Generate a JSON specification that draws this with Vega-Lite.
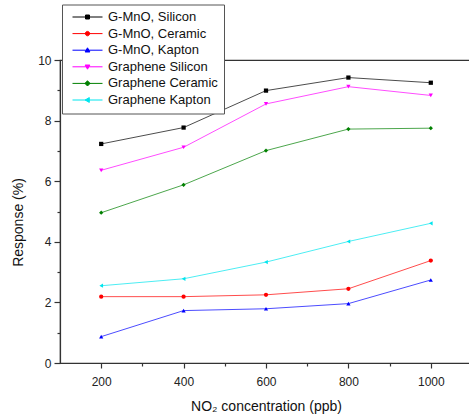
{
  "$schema": "https://vega.github.io/schema/vega-lite/v6.json",
  "width": 412,
  "height": 303,
  "autosize": {"type": "none"},
  "padding": {"left": 60, "top": 60, "right": 0, "bottom": 56},
  "background": "white",
  "config": {
    "font": "Liberation Sans",
    "view": {"stroke": "#333", "strokeWidth": 1.2},
    "axis": {
      "domainColor": "#333", "tickColor": "#333", "labelColor": "#222", "titleColor": "#111",
      "labelFont": "Liberation Sans", "titleFont": "Liberation Sans",
      "labelFontSize": 12, "titleFontSize": 14, "titleFontWeight": "normal",
      "grid": false, "domainWidth": 1.2, "tickWidth": 1.2
    },
    "legend": {
      "orient": "none", "legendX": 2, "legendY": -55.5, "title": null,
      "strokeColor": "#555", "fillColor": "white", "padding": 6,
      "labelFontSize": 13, "labelFont": "Liberation Sans", "labelColor": "#111",
      "symbolSize": 64, "labelOffset": 27, "rowPadding": 2.6,
      "symbolStrokeColor": "#000", "symbolFillColor": "#000", "symbolStrokeWidth": 1, "symbolOpacity": 1
    }
  },
  "data": {
    "values": [
      {"series": "G-MnO, Silicon", "conc": 200, "resp": 7.23},
      {"series": "G-MnO, Silicon", "conc": 400, "resp": 7.77},
      {"series": "G-MnO, Silicon", "conc": 600, "resp": 8.99},
      {"series": "G-MnO, Silicon", "conc": 800, "resp": 9.42},
      {"series": "G-MnO, Silicon", "conc": 1000, "resp": 9.25},
      {"series": "G-MnO, Ceramic", "conc": 200, "resp": 2.19},
      {"series": "G-MnO, Ceramic", "conc": 400, "resp": 2.19},
      {"series": "G-MnO, Ceramic", "conc": 600, "resp": 2.25},
      {"series": "G-MnO, Ceramic", "conc": 800, "resp": 2.45},
      {"series": "G-MnO, Ceramic", "conc": 1000, "resp": 3.38},
      {"series": "G-MnO, Kapton", "conc": 200, "resp": 0.87},
      {"series": "G-MnO, Kapton", "conc": 400, "resp": 1.73},
      {"series": "G-MnO, Kapton", "conc": 600, "resp": 1.79},
      {"series": "G-MnO, Kapton", "conc": 800, "resp": 1.96},
      {"series": "G-MnO, Kapton", "conc": 1000, "resp": 2.74},
      {"series": "Graphene Silicon", "conc": 200, "resp": 6.36},
      {"series": "Graphene Silicon", "conc": 400, "resp": 7.12},
      {"series": "Graphene Silicon", "conc": 600, "resp": 8.55},
      {"series": "Graphene Silicon", "conc": 800, "resp": 9.12},
      {"series": "Graphene Silicon", "conc": 1000, "resp": 8.83},
      {"series": "Graphene Ceramic", "conc": 200, "resp": 4.96},
      {"series": "Graphene Ceramic", "conc": 400, "resp": 5.88},
      {"series": "Graphene Ceramic", "conc": 600, "resp": 7.01},
      {"series": "Graphene Ceramic", "conc": 800, "resp": 7.72},
      {"series": "Graphene Ceramic", "conc": 1000, "resp": 7.75},
      {"series": "Graphene Kapton", "conc": 200, "resp": 2.55},
      {"series": "Graphene Kapton", "conc": 400, "resp": 2.78},
      {"series": "Graphene Kapton", "conc": 600, "resp": 3.33},
      {"series": "Graphene Kapton", "conc": 800, "resp": 4.01},
      {"series": "Graphene Kapton", "conc": 1000, "resp": 4.61}
    ]
  },
  "encoding": {
    "x": {
      "field": "conc", "type": "quantitative",
      "scale": {"domain": [100, 1100], "nice": false},
      "axis": {"orient": "bottom", "values": [200, 400, 600, 800, 1000], "format": "d", "title": "NO₂ concentration (ppb)", "tickSize": 5, "labelPadding": 8, "titlePadding": 12, "labelFlush": false}
    },
    "y": {
      "field": "resp", "type": "quantitative",
      "scale": {"domain": [0, 10], "nice": false},
      "axis": {"orient": "left", "values": [0, 2, 4, 6, 8, 10], "title": "Response (%)", "tickSize": 6, "labelPadding": 3, "titleX": -42, "titleY": 162, "titleBaseline": "middle", "labelFlush": false}
    }
  },
  "layer": [
    {
      "mark": {"type": "line", "strokeWidth": 1, "opacity": 0.7},
      "encoding": {
        "color": {
          "field": "series", "type": "nominal", "legend": null,
          "scale": {
            "domain": ["G-MnO, Silicon", "G-MnO, Ceramic", "G-MnO, Kapton", "Graphene Silicon", "Graphene Ceramic", "Graphene Kapton"],
            "range": ["#000000", "#ff0000", "#0000ff", "#ff00ff", "#008000", "#00e5ee"]
          }
        }
      }
    },
    {
      "mark": {"type": "point", "filled": true, "size": 18, "opacity": 1},
      "encoding": {
        "color": {"field": "series", "type": "nominal", "legend": null},
        "shape": {
          "field": "series", "type": "nominal",
          "scale": {
            "domain": ["G-MnO, Silicon", "G-MnO, Ceramic", "G-MnO, Kapton", "Graphene Silicon", "Graphene Ceramic", "Graphene Kapton"],
            "range": ["square", "circle", "triangle-up", "triangle-down", "diamond", "triangle-left"]
          },
          "legend": null
        },
        "x": {"field": "conc", "type": "quantitative", "axis": {"orient": "bottom", "values": [300, 500, 700, 900], "labels": false, "domain": false, "title": null, "tickSize": 3}},
        "y": {"field": "resp", "type": "quantitative", "axis": {"orient": "left", "values": [1, 3, 5, 7, 9], "labels": false, "domain": false, "title": null, "tickSize": 3}}
      }
    },
    {
      "transform": [{"filter": "datum.conc > 5000"}],
      "mark": {"type": "point", "filled": true},
      "encoding": {
        "x": {"field": "conc", "type": "quantitative", "axis": null},
        "y": {"field": "resp", "type": "quantitative", "axis": null},
        "fill": {
          "field": "series", "type": "nominal",
          "scale": {
            "domain": ["G-MnO, Silicon", "G-MnO, Ceramic", "G-MnO, Kapton", "Graphene Silicon", "Graphene Ceramic", "Graphene Kapton"],
            "range": ["#000000", "#ff0000", "#0000ff", "#ff00ff", "#008000", "#00e5ee"]
          },
          "legend": {"orient": "none", "legendX": 2, "legendY": -55.5, "title": null}
        },
        "stroke": {
          "field": "series", "type": "nominal",
          "scale": {
            "domain": ["G-MnO, Silicon", "G-MnO, Ceramic", "G-MnO, Kapton", "Graphene Silicon", "Graphene Ceramic", "Graphene Kapton"],
            "range": ["#000000", "#ff0000", "#0000ff", "#ff00ff", "#008000", "#00e5ee"]
          },
          "legend": {"orient": "none", "legendX": 2, "legendY": -55.5, "title": null}
        },
        "shape": {
          "field": "series", "type": "nominal",
          "scale": {
            "domain": ["G-MnO, Silicon", "G-MnO, Ceramic", "G-MnO, Kapton", "Graphene Silicon", "Graphene Ceramic", "Graphene Kapton"],
            "range": [
              "M-0.5,0H7M2.75,-0.5H3.75V0.5H2.75Z",
              "M-0.5,0H7M2.7,0A0.55,0.55,0,1,0,3.8,0A0.55,0.55,0,1,0,2.7,0Z",
              "M-0.5,0H7M3.25,-0.6L3.85,0.45L2.65,0.45Z",
              "M-0.5,0H7M3.25,0.6L3.85,-0.45L2.65,-0.45Z",
              "M-0.5,0H7M3.25,-0.65L3.9,0L3.25,0.65L2.6,0Z",
              "M-0.5,0H7M2.65,0L3.7,-0.6L3.7,0.6Z"
            ]
          },
          "legend": {"orient": "none", "legendX": 2, "legendY": -55.5, "title": null}
        }
      }
    }
  ],
  "resolve": {
    "axis": {"x": "independent", "y": "independent"},
    "scale": {"fill": "independent", "stroke": "independent", "shape": "independent"}
  }
}
